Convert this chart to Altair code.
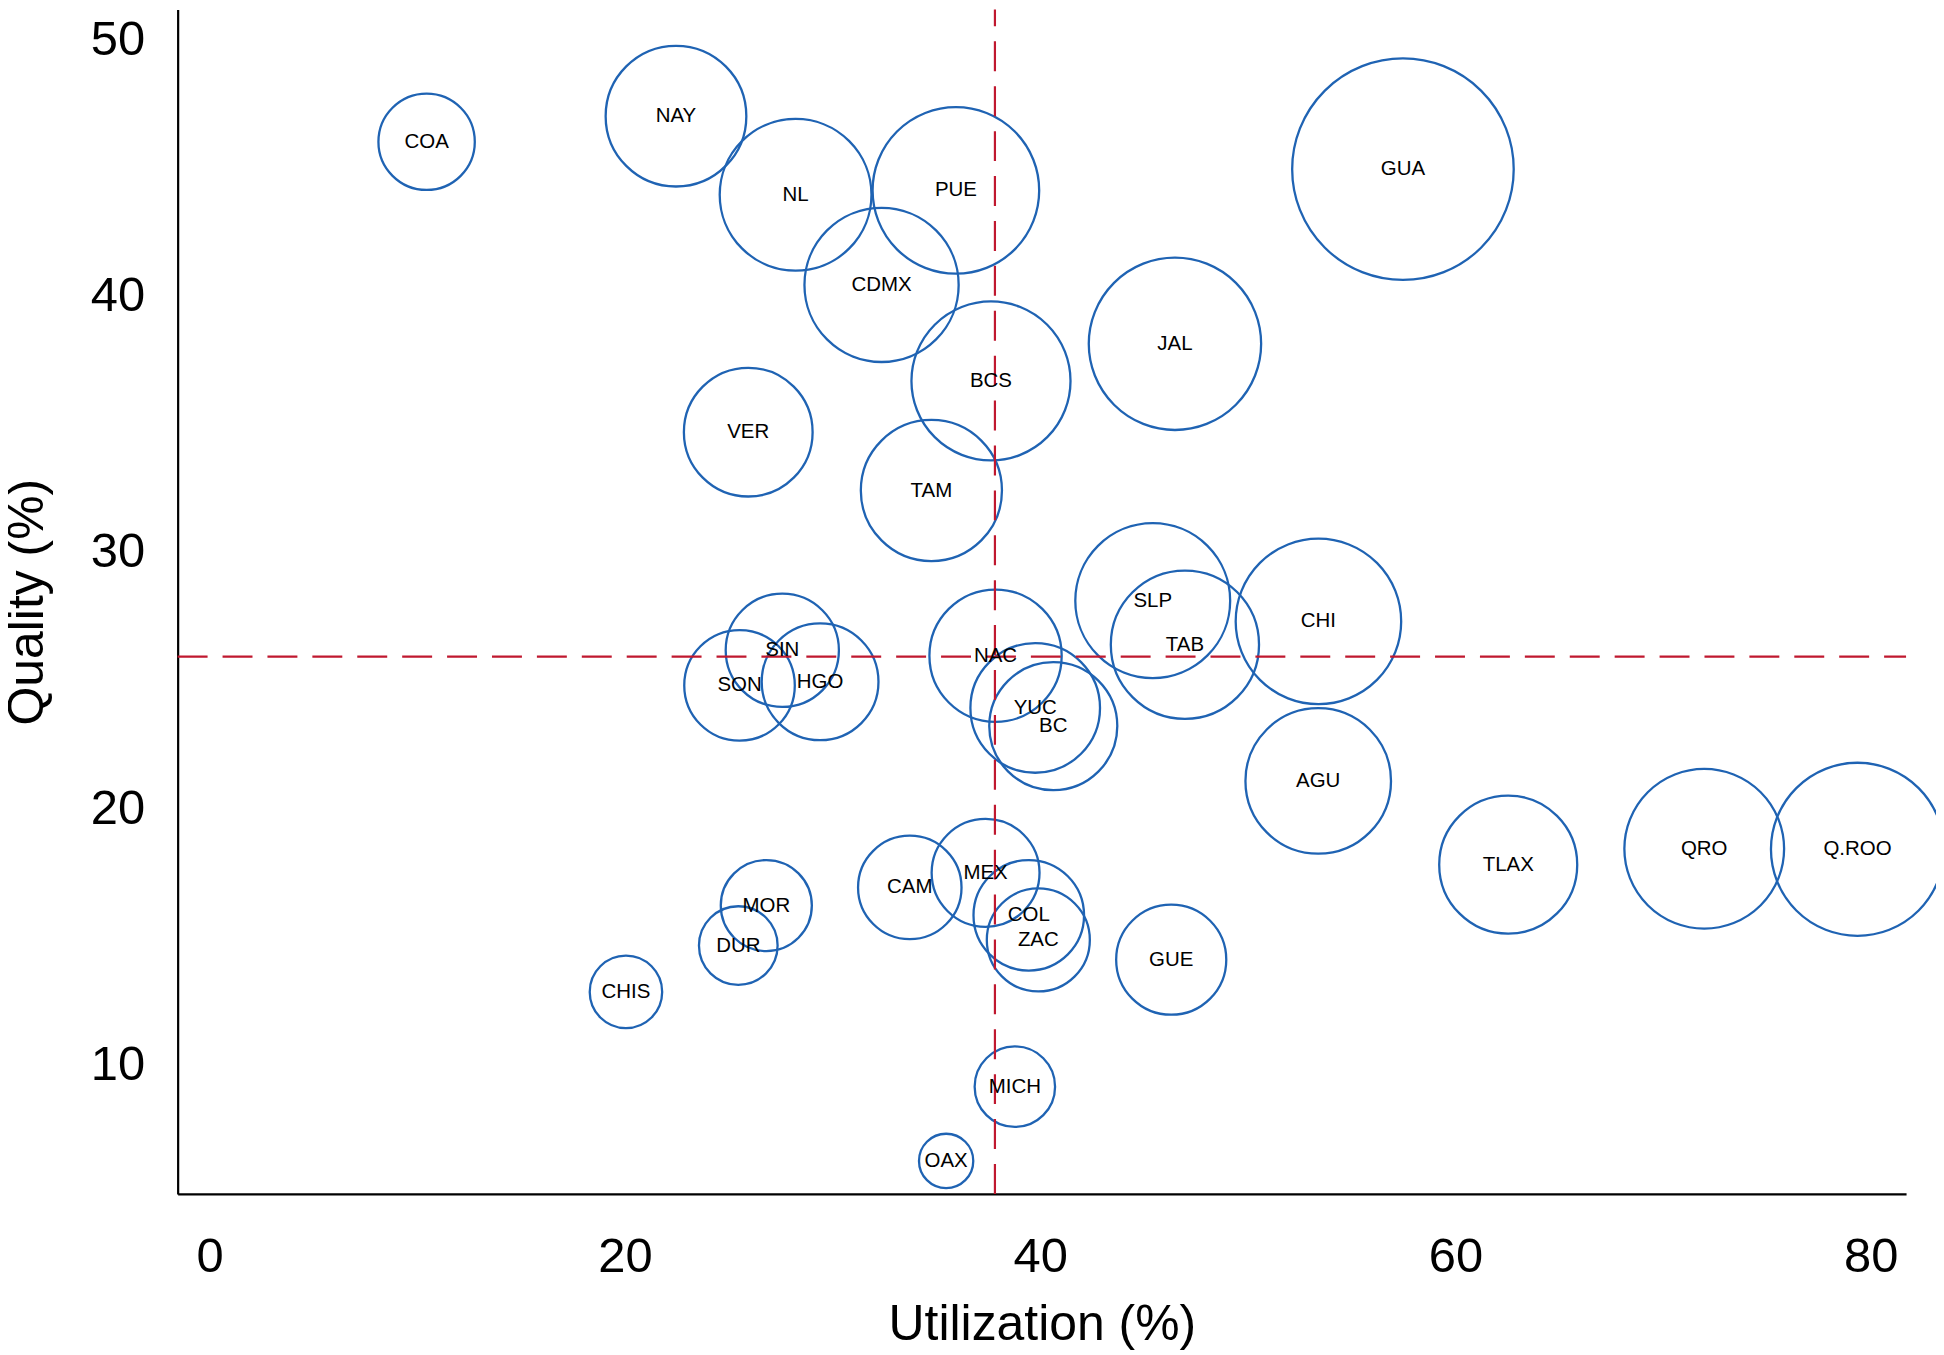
import altair as alt
import pandas as pd

# ---- data ----
states = ["COA", "NAY", "NL", "PUE", "CDMX", "GUA", "JAL", "BCS", "VER", "TAM",
          "SLP", "TAB", "CHI", "NAC", "SIN", "SON", "HGO", "YUC", "BC", "AGU",
          "TLAX", "QRO", "Q.ROO", "CAM", "MEX", "COL", "ZAC", "MOR", "DUR", "GUE",
          "MICH", "OAX", "CHIS"]
utilization = [10.45, 22.46, 28.22, 35.94, 32.36, 57.47, 46.49, 37.63, 25.94, 34.76,
               45.42, 46.97, 53.40, 37.85, 27.58, 25.52, 29.40, 39.76, 40.63, 53.39,
               62.54, 71.98, 79.36, 33.72, 37.37, 39.45, 39.91, 26.81, 25.46, 46.31,
               38.78, 35.47, 20.05]
quality = [46.02, 47.02, 43.95, 44.12, 40.43, 44.95, 38.13, 36.68, 34.68, 32.40,
           28.10, 26.38, 27.29, 25.95, 26.16, 24.79, 24.93, 23.91, 23.20, 21.06,
           17.79, 18.41, 18.39, 16.90, 17.47, 15.81, 14.85, 16.19, 14.63, 14.08,
           9.12, 6.22, 12.82]
bubble = [43.5, 63.5, 68.5, 75.2, 69.6, 100.0, 77.8, 71.8, 58.1, 63.7,
          69.9, 66.9, 74.7, 59.7, 51.1, 49.9, 52.7, 58.5, 57.8, 65.7,
          62.3, 72.1, 78.1, 46.7, 48.7, 49.9, 46.5, 41.1, 35.5, 49.7,
          36.3, 24.5, 32.7]

avg_utilization = 37.82
avg_quality = 25.91

x_ticks = [0, 20, 40, 60, 80]
y_ticks = [10, 20, 30, 40, 50]

df = pd.DataFrame({"state": states, "util": utilization, "qual": quality, "bub": bubble})

W, H = 1732, 1187
x_dom = [-1.54, 81.7]
y_dom = [4.93, 51.19]
max_d = 222.0

BLUE = "#1f63b3"
RED = "#c0182f"
FONT = "Liberation Sans"

xs = alt.Scale(domain=x_dom, nice=False, zero=False)
ys = alt.Scale(domain=y_dom, nice=False, zero=False)

x_axis = alt.Axis(values=x_ticks, title="Utilization (%)", labelPadding=39,
                  titlePadding=18, grid=False, ticks=False)
y_axis = alt.Axis(values=y_ticks, title="Quality (%)", labelPadding=33,
                  titlePadding=38, grid=False, ticks=False)

base = alt.Chart(df)

circles = base.mark_point(shape="circle", filled=False, color=BLUE,
                          strokeWidth=2.3, opacity=1).encode(
    x=alt.X("util:Q", scale=xs, axis=x_axis),
    y=alt.Y("qual:Q", scale=ys, axis=y_axis),
    size=alt.Size("bub:Q", scale=alt.Scale(type="pow", exponent=2, domain=[0, 100],
                                           range=[0, max_d ** 2]),
                  legend=None),
)

labels = base.mark_text(font=FONT, fontSize=20.5, color="black",
                        align="center", baseline="middle").encode(
    x=alt.X("util:Q", scale=xs),
    y=alt.Y("qual:Q", scale=ys),
    text="state:N",
)

hline = alt.Chart(pd.DataFrame({"v": [avg_quality]})).mark_rule(
    color=RED, strokeWidth=2.2, strokeDash=[30, 15]).encode(
    y=alt.Y("v:Q", scale=ys),
    x=alt.datum(x_dom[0], scale=xs),
    x2=alt.datum(x_dom[1]),
)

vline = alt.Chart(pd.DataFrame({"v": [avg_utilization]})).mark_rule(
    color=RED, strokeWidth=2.2, strokeDash=[30, 15]).encode(
    x=alt.X("v:Q", scale=xs),
    y=alt.datum(y_dom[0], scale=ys),
    y2=alt.datum(y_dom[1]),
)

chart = alt.layer(circles, hline, vline, labels).properties(
    width=W, height=H,
    background="white",
    autosize=alt.AutoSizeParams(type="none"),
    padding={"left": 170, "top": 0, "right": 30, "bottom": 158},
).configure_view(stroke=None).configure_axis(
    grid=False, ticks=False, tickSize=0,
    domainColor="black", domainWidth=2.2,
    labelFont=FONT, labelFontSize=49, labelColor="black",
    titleFont=FONT, titleFontSize=50, titleColor="black", titleFontWeight="normal",
)

chart.save("out.html", embed_options={"renderer": "svg", "actions": False})
